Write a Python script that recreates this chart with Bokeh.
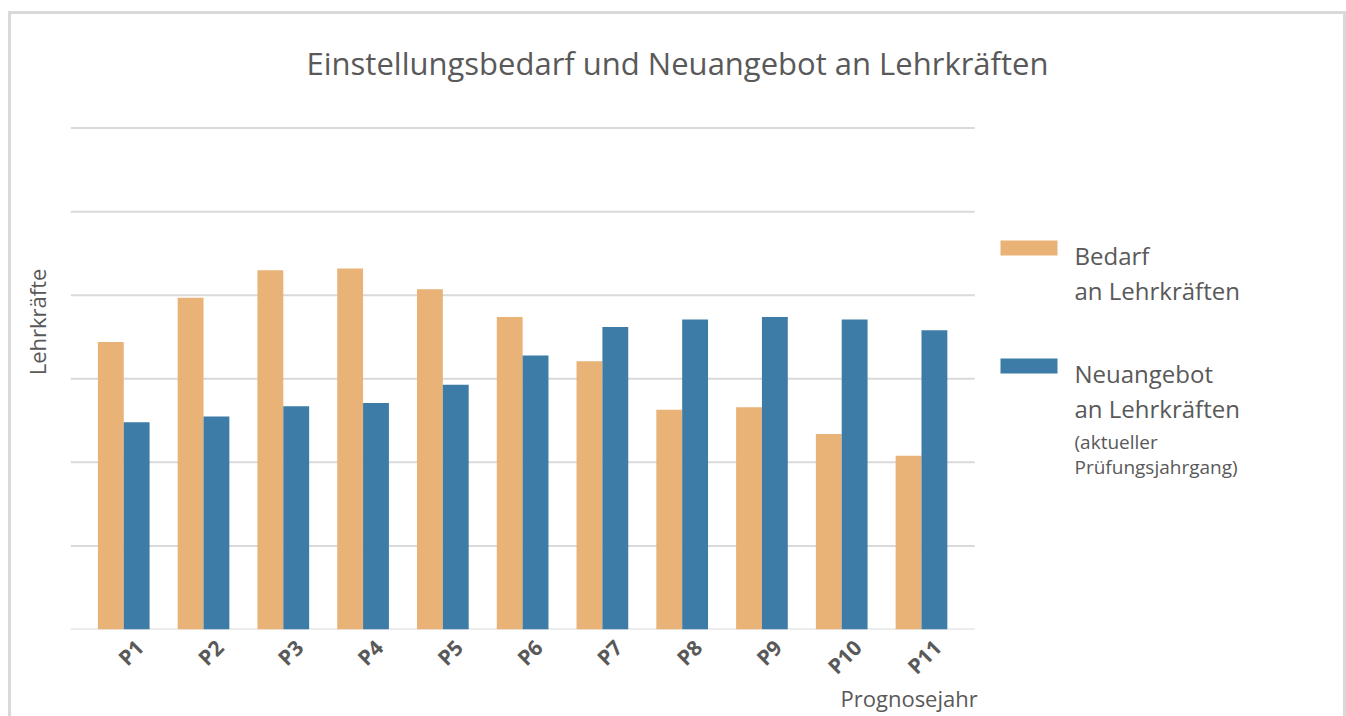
import math
from bokeh.plotting import figure
from bokeh.models import (Range1d, FixedTicker, LinearAxis, Title, Label, BoxAnnotation,
                          ColumnDataSource)
from bokeh.transform import dodge
from bokeh.embed import file_html
from bokeh.resources import INLINE

categories = ["P1", "P2", "P3", "P4", "P5", "P6", "P7", "P8", "P9", "P10", "P11"]
bedarf = [1720, 1985, 2150, 2160, 2035, 1870, 1605, 1315, 1330, 1170, 1040]
neuangebot = [1240, 1275, 1335, 1355, 1465, 1640, 1810, 1855, 1870, 1855, 1790]
y_ticks = [0, 500, 1000, 1500, 2000, 2500, 3000]
legend_bedarf = ["Bedarf", "an Lehrkräften"]
legend_neu = ["Neuangebot", "an Lehrkräften"]
legend_neu_note = ["(aktueller", "Prüfungsjahrgang)"]

TXT = "#595959"
GRID = "#d9d9d9"
ORANGE = "#E9B276"
BLUE = "#3D7CA6"
FONT = "Open Sans"

n = len(categories)
PAD = 0.1675          # range padding (each side, in category units)
SHIFT = 0.2           # tick-label offset to the right (category units)

# layout (pixels)
W, H = 1338, 705
BL, BB = 59, 90                    # left / bottom borders
FRAME_W = W - 6 - BL               # frame reaches the right edge
FRAME_H = H - 3 - BB               # frame reaches the top edge
PLOT_W, PLOT_H = 900, 499          # extent of the bar area inside the frame
FL, FB = 70, 626                   # page position of frame left / bottom

x0 = -0.5 - PAD
x1 = x0 + (n + 2 * PAD) * FRAME_W / PLOT_W
y1 = max(y_ticks) * FRAME_H / PLOT_H

p = figure(x_range=Range1d(x0, x1), y_range=Range1d(0, y1), width=W, height=H,
           output_backend="svg", toolbar_location=None,
           min_border_left=BL, min_border_right=0, min_border_top=0, min_border_bottom=BB)
p.styles = {"border": "3px solid #d9d9d9", "border-bottom": "none",
            "margin-left": "8px", "margin-top": "11px"}
p.outline_line_color = None
p.title.visible = False

# horizontal grid lines limited to the bar area
p.segment(x0=[x0] * len(y_ticks), x1=[n - 0.5 + PAD] * len(y_ticks), y0=y_ticks, y1=y_ticks,
          line_color=GRID, line_width=2)

src = ColumnDataSource(dict(idx=list(range(n)), cat=categories, bedarf=bedarf, neu=neuangebot))
p.vbar(x=dodge("idx", -0.162), top="bedarf", width=0.324, source=src,
       fill_color=ORANGE, line_color=None)
p.vbar(x=dodge("idx", 0.162), top="neu", width=0.324, source=src,
       fill_color=BLUE, line_color=None)

p.xgrid.visible = False
p.ygrid.visible = False

# y axis: only the title
yax = p.yaxis[0]
yax.ticker = FixedTicker(ticks=[])
yax.axis_line_color = None
yax.major_tick_out = 0
yax.major_label_standoff = 0
yax.axis_label = "Lehrkräfte"
yax.axis_label_text_font = FONT
yax.axis_label_text_font_size = "22px"
yax.axis_label_text_font_style = "normal"
yax.axis_label_text_color = TXT
yax.axis_label_standoff = 19

# default x axis hidden; category labels on a slightly shifted range
p.xaxis.visible = False
p.extra_x_ranges = {"lab": Range1d(x0 - SHIFT, x1 - SHIFT)}
lab_axis = LinearAxis(x_range_name="lab", ticker=FixedTicker(ticks=list(range(n))),
                      major_label_overrides={i: c for i, c in enumerate(categories)})
lab_axis.axis_line_color = None
lab_axis.major_tick_line_color = None
lab_axis.minor_tick_line_color = None
lab_axis.major_label_orientation = math.pi / 4
lab_axis.major_label_text_font = FONT
lab_axis.major_label_text_font_style = "bold"
lab_axis.major_label_text_font_size = "21px"
lab_axis.major_label_text_color = TXT
lab_axis.major_label_standoff = 8
p.add_layout(lab_axis, "below")

p.add_layout(Title(text="Prognosejahr", align="left", offset=770, text_font=FONT,
                   text_font_size="22px", text_font_style="normal", text_color=TXT,
                   standoff=-24), "below")


def sx(x):
    return x - FL


def sy(y):
    return FB - y


def lab(text, x, y, size, align="left", baseline="alphabetic"):
    p.add_layout(Label(x=sx(x), y=sy(y), x_units="screen", y_units="screen", text=text,
                       text_font=FONT, text_font_size=size, text_color=TXT,
                       text_align=align, text_baseline=baseline))


lab("Einstellungsbedarf und Neuangebot an Lehrkräften", 677, 59, "31px",
    align="center", baseline="middle")

for t, y in zip(legend_bedarf, [252, 287]):
    lab(t, 1074, y, "24px")
for t, y in zip(legend_neu, [370, 405]):
    lab(t, 1074, y, "24px")
for t, y in zip(legend_neu_note, [438, 463]):
    lab(t, 1074, y, "19px")

for (ya, yb, c) in [(237, 252, ORANGE), (355, 370, BLUE)]:
    p.add_layout(BoxAnnotation(left=sx(1000), right=sx(1057), bottom=sy(yb), top=sy(ya),
                               left_units="screen", right_units="screen",
                               bottom_units="screen", top_units="screen",
                               fill_color=c, fill_alpha=1, line_color=None))

open("out.html", "w").write(file_html(p, INLINE))
